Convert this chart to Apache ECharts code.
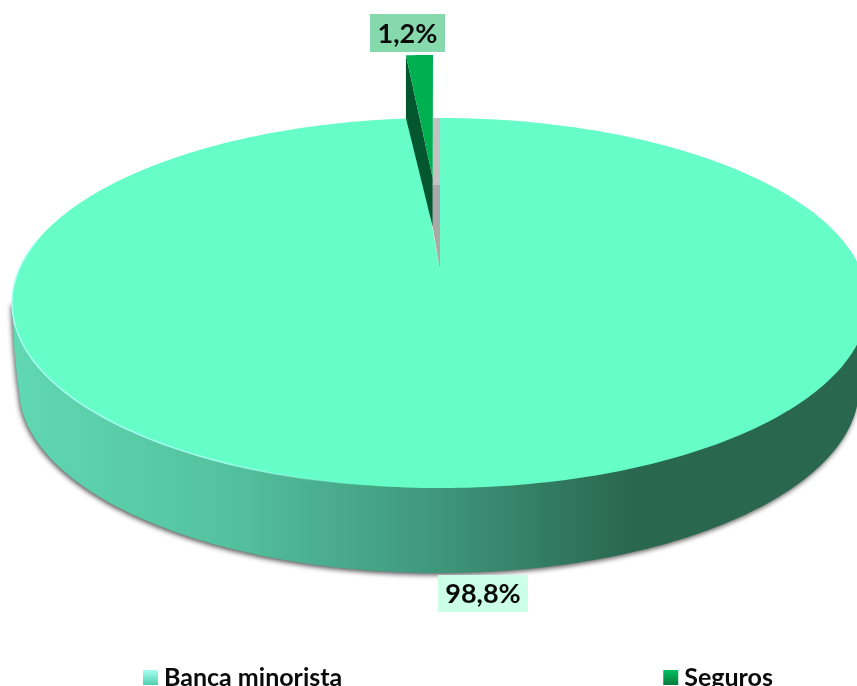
<!DOCTYPE html>
<html>
<head>
<meta charset="utf-8">
<style>html,body{margin:0;padding:0;background:#fff}#c{width:857px;height:686px}</style>
<script src="https://cdn.jsdelivr.net/npm/echarts@6/dist/echarts.min.js"></script>
</head>
<body>
<div id="c"></div>
<script>
var categories = ['Banca minorista', 'Seguros'];
var bancaValues = [98.8];
var segurosValues = [1.2];
var total = bancaValues[0] + segurosValues[0];

var FONT = 'bold 27px Lato, "Noto Sans", sans-serif';
var P = {cx: 440, cy: 271, a: 421.5, b: 179.5, k: -0.173};

// perspective projection of the pie's unit circle; theta clockwise from 12 o'clock
function proj(deg) {
  var t = deg * Math.PI / 180, u = Math.sin(t), v = -Math.cos(t), w = 1 + P.k * v;
  return [P.cx + P.a * u / w, P.cy + P.b * v / w];
}
function arc(from, to, step, dx, dy) {
  var pts = [], n = Math.max(2, Math.ceil(Math.abs(to - from) / step));
  for (var i = 0; i <= n; i++) {
    var p = proj(from + (to - from) * i / n);
    pts.push([p[0] + (dx || 0), p[1] + (dy || 0)]);
  }
  return pts;
}
function labelBox(x, y, w, h, fill, text) {
  return [
    {type: 'rect', shape: {x: x, y: y, width: w, height: h}, style: {fill: fill}},
    {type: 'text', style: {text: text, x: x + w / 2, y: y + h / 2 + 1, align: 'center', verticalAlign: 'middle', font: FONT, fill: '#0a0a0a'}}
  ];
}
function fmt(v) { return String(v).replace('.', ',') + '%'; }

var wallGradient = {type: 'linear', x: 0, y: 0, x2: 1, y2: 0, colorStops: [
  {offset: 0, color: '#60d8b1'}, {offset: 0.25, color: '#54c29e'}, {offset: 0.5, color: '#3f967b'},
  {offset: 0.72, color: '#2a6751'}, {offset: 1, color: '#2a6751'}]};
var rimGradient = {type: 'linear', x: 0, y: 0, x2: 1, y2: 0, colorStops: [
  {offset: 0, color: '#a8fff2'}, {offset: 0.6, color: '#a0fff0'}, {offset: 1, color: 'rgba(160,255,240,0)'}]};

function renderBanca(params, api) {
  var share = api.value(0) / total * 360;
  var top = [[P.cx, P.cy]].concat(arc(0, share, 1));
  // side wall: rounded left flank, lower rim, right flank behind the top face
  var wall = [[12, 303], [13, 325], [14.5, 350], [16.5, 372]];
  for (var d = 175; d >= 5; d -= 1) {
    var r = d * Math.PI / 180;
    wall.push([439 + 420 * Math.cos(r), 388 + 185 * Math.sin(r)]);
  }
  wall.push([866, 350], [868, 303]);
  return {type: 'group', children: [
    {type: 'polygon', shape: {points: wall}, style: {fill: wallGradient,
      shadowColor: 'rgba(0,0,0,0.65)', shadowBlur: 5, shadowOffsetX: -1, shadowOffsetY: 2}},
    {type: 'polygon', shape: {points: [[432.7, 118], [440, 118], [440, 185], [432.7, 185]]}, style: {fill: '#c2c2c2'}},
    {type: 'polygon', shape: {points: [[432.7, 185], [440, 185], [440, 271], [432.7, 227]]}, style: {fill: '#a9a9a9'}},
    {type: 'polygon', shape: {points: top}, style: {fill: '#66fdc9'}},
    {type: 'polyline', shape: {points: arc(190, 280, 1)}, style: {fill: 'none', stroke: rimGradient, lineWidth: 1.5}}
  ].concat(labelBox(438, 575, 90, 37, '#ccffe8', fmt(api.value(0))))};
}

function renderSeguros(params, api) {
  var share = api.value(0) / total * 360;
  var outer = arc(-share, 0, 1, -7, -63);
  var tip = [432.7, 178];
  var first = outer[0];
  return {type: 'group', children: [
    {type: 'polygon', shape: {points: [first, tip, [432.7, 227], [first[0], 118]]}, style: {fill: '#04562f'}},
    {type: 'polygon', shape: {points: outer.concat([tip])}, style: {fill: '#00af50'}}
  ].concat(labelBox(370, 14, 75, 38, '#85d9ad', fmt(api.value(0))))};
}

var swatchMint = {type: 'linear', x: 0, y: 0, x2: 0, y2: 1, colorStops: [{offset: 0, color: '#a5fff0'}, {offset: 1, color: '#52cfb0'}]};
var swatchGreen = {type: 'linear', x: 0, y: 0, x2: 0, y2: 1, colorStops: [{offset: 0, color: '#00c060'}, {offset: 1, color: '#067a3e'}]};

var chart = echarts.init(document.getElementById('c'), null, {renderer: 'canvas'});
chart.setOption({
  animation: false,
  backgroundColor: '#ffffff',
  legend: {
    left: 143, top: 665, itemWidth: 15, itemHeight: 15, itemGap: 321, padding: 0, selectedMode: false,
    textStyle: {fontFamily: 'Lato, "Noto Sans", sans-serif', fontWeight: 'bold', fontSize: 25, color: '#0a0a0a', padding: [0, 0, 0, 1]},
    data: [
      {name: categories[0], icon: 'rect', itemStyle: {color: swatchMint}},
      {name: categories[1], icon: 'rect', itemStyle: {color: swatchGreen}}
    ]
  },
  series: [
    {type: 'custom', name: categories[0], coordinateSystem: 'none', silent: true, clip: false, itemStyle: {color: '#66fdc9'}, data: [bancaValues], renderItem: renderBanca},
    {type: 'custom', name: categories[1], coordinateSystem: 'none', silent: true, clip: false, itemStyle: {color: '#00af50'}, data: [segurosValues], renderItem: renderSeguros}
  ]
});
</script>
</body>
</html>
